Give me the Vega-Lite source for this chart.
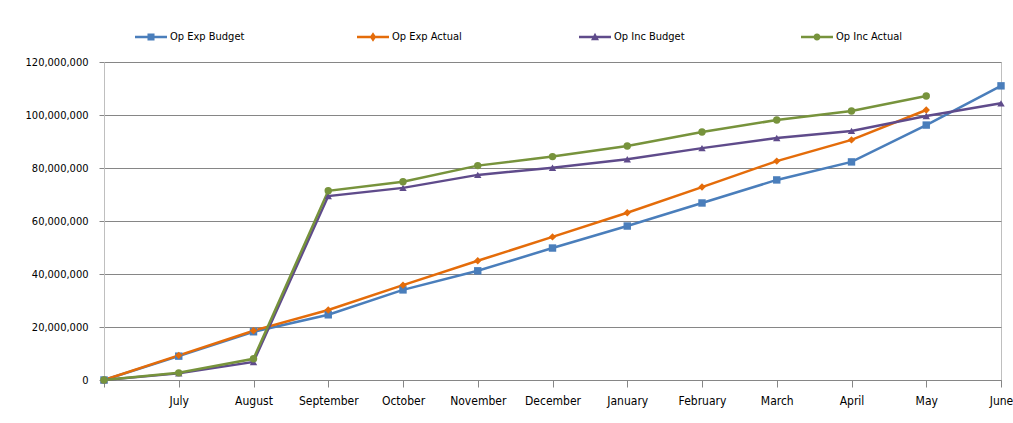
{
  "$schema": "https://vega.github.io/schema/vega-lite/v6.json",
  "width": 897,
  "height": 318,
  "autosize": {"type": "none"},
  "padding": {"left": 104, "top": 62, "right": 12, "bottom": 43},
  "background": "white",
  "config": {
    "font": "DejaVu Sans Condensed",
    "view": {"stroke": "#bfbfbf", "strokeWidth": 1},
    "axis": {"labelFont": "DejaVu Sans Condensed", "labelColor": "#000000", "labelFontSize": 11}
  },
  "data": {
    "values": [
      {"month": "Start", "series": "Op Exp Budget", "value": 0},
      {"month": "July", "series": "Op Exp Budget", "value": 9000000},
      {"month": "August", "series": "Op Exp Budget", "value": 18200000},
      {"month": "September", "series": "Op Exp Budget", "value": 24600000},
      {"month": "October", "series": "Op Exp Budget", "value": 34000000},
      {"month": "November", "series": "Op Exp Budget", "value": 41200000},
      {"month": "December", "series": "Op Exp Budget", "value": 49800000},
      {"month": "January", "series": "Op Exp Budget", "value": 58100000},
      {"month": "February", "series": "Op Exp Budget", "value": 66800000},
      {"month": "March", "series": "Op Exp Budget", "value": 75500000},
      {"month": "April", "series": "Op Exp Budget", "value": 82300000},
      {"month": "May", "series": "Op Exp Budget", "value": 96200000},
      {"month": "June", "series": "Op Exp Budget", "value": 111000000},
      {"month": "Start", "series": "Op Exp Actual", "value": 0},
      {"month": "July", "series": "Op Exp Actual", "value": 9300000},
      {"month": "August", "series": "Op Exp Actual", "value": 18600000},
      {"month": "September", "series": "Op Exp Actual", "value": 26400000},
      {"month": "October", "series": "Op Exp Actual", "value": 35800000},
      {"month": "November", "series": "Op Exp Actual", "value": 45000000},
      {"month": "December", "series": "Op Exp Actual", "value": 54000000},
      {"month": "January", "series": "Op Exp Actual", "value": 63100000},
      {"month": "February", "series": "Op Exp Actual", "value": 72800000},
      {"month": "March", "series": "Op Exp Actual", "value": 82600000},
      {"month": "April", "series": "Op Exp Actual", "value": 90600000},
      {"month": "May", "series": "Op Exp Actual", "value": 101900000},
      {"month": "Start", "series": "Op Inc Budget", "value": 0},
      {"month": "July", "series": "Op Inc Budget", "value": 2500000},
      {"month": "August", "series": "Op Inc Budget", "value": 6800000},
      {"month": "September", "series": "Op Inc Budget", "value": 69400000},
      {"month": "October", "series": "Op Inc Budget", "value": 72500000},
      {"month": "November", "series": "Op Inc Budget", "value": 77400000},
      {"month": "December", "series": "Op Inc Budget", "value": 80100000},
      {"month": "January", "series": "Op Inc Budget", "value": 83300000},
      {"month": "February", "series": "Op Inc Budget", "value": 87500000},
      {"month": "March", "series": "Op Inc Budget", "value": 91300000},
      {"month": "April", "series": "Op Inc Budget", "value": 94000000},
      {"month": "May", "series": "Op Inc Budget", "value": 99600000},
      {"month": "June", "series": "Op Inc Budget", "value": 104400000},
      {"month": "Start", "series": "Op Inc Actual", "value": 0},
      {"month": "July", "series": "Op Inc Actual", "value": 2700000},
      {"month": "August", "series": "Op Inc Actual", "value": 8000000},
      {"month": "September", "series": "Op Inc Actual", "value": 71400000},
      {"month": "October", "series": "Op Inc Actual", "value": 74800000},
      {"month": "November", "series": "Op Inc Actual", "value": 80900000},
      {"month": "December", "series": "Op Inc Actual", "value": 84300000},
      {"month": "January", "series": "Op Inc Actual", "value": 88300000},
      {"month": "February", "series": "Op Inc Actual", "value": 93600000},
      {"month": "March", "series": "Op Inc Actual", "value": 98100000},
      {"month": "April", "series": "Op Inc Actual", "value": 101500000},
      {"month": "May", "series": "Op Inc Actual", "value": 107200000}
    ]
  },
  "encoding": {
    "x": {
      "field": "month",
      "type": "ordinal",
      "sort": ["Start","July","August","September","October","November","December","January","February","March","April","May","June"],
      "scale": {"type": "point", "padding": 0},
      "title": null,
      "axis": {
        "labelAngle": 0,
        "labelFontSize": 12,
        "labelExpr": "datum.value == 'Start' ? '' : datum.value",
        "domainColor": "#868686",
        "tickColor": "#868686",
        "tickSize": 7,
        "labelPadding": 8,
        "grid": false
      }
    },
    "y": {
      "field": "value",
      "type": "quantitative",
      "scale": {"domain": [0, 120000000], "nice": false},
      "title": null,
      "axis": {
        "values": [0, 20000000, 40000000, 60000000, 80000000, 100000000, 120000000],
        "format": ",.0f",
        "grid": true,
        "gridColor": "#868686",
        "domainColor": "#bfbfbf",
        "tickColor": "#868686",
        "tickSize": 5,
        "labelPadding": 11
      }
    }
  },
  "layer": [
    {
      "mark": {"type": "line", "strokeWidth": 2.5},
      "encoding": {
        "color": {
          "field": "series",
          "type": "nominal",
          "scale": {
            "domain": ["Op Exp Budget", "Op Exp Actual", "Op Inc Budget", "Op Inc Actual"],
            "range": ["#4a7ebb", "#e46c0a", "#5f4b8b", "#77933c"]
          },
          "legend": null
        }
      }
    },
    {
      "mark": {"type": "point", "filled": true, "opacity": 1, "size": 55},
      "encoding": {
        "color": {
          "field": "series",
          "type": "nominal",
          "scale": {
            "domain": ["Op Exp Budget", "Op Exp Actual", "Op Inc Budget", "Op Inc Actual"],
            "range": ["#4a7ebb", "#e46c0a", "#5f4b8b", "#77933c"]
          },
          "legend": null
        },
        "shape": {
          "field": "series",
          "type": "nominal",
          "scale": {
            "domain": ["Op Exp Budget", "Op Exp Actual", "Op Inc Budget", "Op Inc Actual"],
            "range": ["square", "diamond", "triangle-up", "circle"]
          },
          "legend": null
        }
      }
    },
    {
      "transform": [{"filter": "datum.value < 0"}],
      "mark": {"type": "point", "filled": true, "opacity": 1},
      "encoding": {
        "color": {
          "field": "series",
          "type": "nominal",
          "scale": {
            "domain": ["Op Exp Budget", "Op Exp Actual", "Op Inc Budget", "Op Inc Actual"],
            "range": ["#4a7ebb", "#e46c0a", "#5f4b8b", "#77933c"]
          },
          "legend": {
            "orient": "none",
            "legendX": 31,
            "legendY": -41,
            "direction": "horizontal",
            "columns": 4,
            "gridAlign": "all",
            "columnPadding": 112,
            "title": null,
            "symbolSize": 1024,
            "symbolStrokeWidth": 0,
            "symbolOpacity": 1,
            "labelOffset": 3,
            "labelFont": "DejaVu Sans Condensed",
            "labelFontSize": 11,
            "labelColor": "#000000"
          }
        },
        "shape": {
          "field": "series",
          "type": "nominal",
          "scale": {
            "domain": ["Op Exp Budget", "Op Exp Actual", "Op Inc Budget", "Op Inc Actual"],
            "range": [
              "M-1,-0.08H1V0.08H-1ZM-0.22,-0.22H0.22V0.22H-0.22Z",
              "M-1,-0.08H1V0.08H-1ZM0,-0.3L0.2,0L0,0.3L-0.2,0Z",
              "M-1,-0.08H1V0.08H-1ZM0,-0.26L0.25,0.2H-0.25Z",
              "M-1,-0.08H1V0.08H-1ZM0.22,0A0.22,0.22 0 1 1 -0.22,0A0.22,0.22 0 1 1 0.22,0Z"
            ]
          },
          "legend": {
            "orient": "none",
            "legendX": 31,
            "legendY": -41,
            "direction": "horizontal",
            "columns": 4,
            "gridAlign": "all",
            "columnPadding": 112,
            "title": null,
            "symbolSize": 1024,
            "symbolStrokeWidth": 0,
            "symbolOpacity": 1,
            "labelOffset": 3,
            "labelFont": "DejaVu Sans Condensed",
            "labelFontSize": 11,
            "labelColor": "#000000"
          }
        }
      }
    }
  ],
  "resolve": {
    "scale": {"shape": "independent", "color": "independent"},
    "legend": {"shape": "independent", "color": "independent"}
  }
}
